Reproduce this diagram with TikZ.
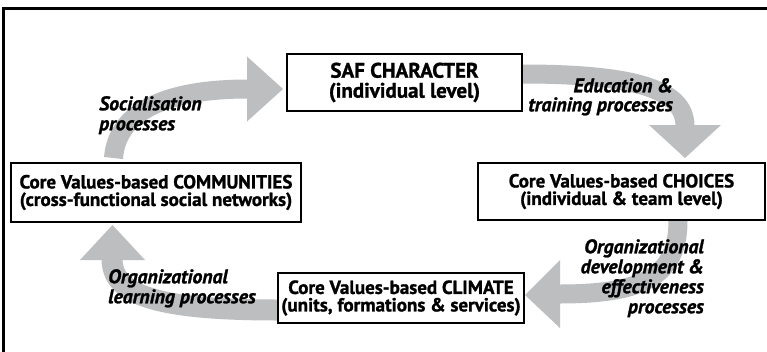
\documentclass[tikz,border=0pt]{standalone}
\usepackage{fontspec}
\setmainfont{PT Sans}[BoldFeatures={FakeBold=1.2},BoldItalicFeatures={FakeBold=1.2}]
\definecolor{arrowgray}{RGB}{188,190,192}
\begin{document}
\begin{tikzpicture}[x=1pt,y=-1pt,
  box/.style={draw=black, line width=2.3pt, fill=white, inner sep=0pt, align=center, font=\bfseries\fontsize{19}{17.5}\selectfont},
  shaft/.style={draw=arrowgray, line width=19pt},
  head/.style={fill=arrowgray},
  lbl/.style={inner sep=0pt, font=\bfseries\itshape\fontsize{19.7}{20}\selectfont}]
\useasboundingbox (0,0) rectangle (767,351);
\fill[white] (0,0) rectangle (767,351);
% frame (cropped)
\draw[line width=3pt] (3.3,352) -- (3.3,8.3) -- (768,8.3);
% arrows
\coordinate (a1s) at (113.5,158);
\coordinate (a1b) at (248,89);
\draw[shaft] (a1s) .. controls (117,112) and (165,89) .. (a1b);
\fill[head] (247,56.5) -- (283,89) -- (247,121.5) -- cycle;
\coordinate (a2s) at (522,74);
\coordinate (a2b) at (685,126);
\draw[shaft] (a2s) .. controls (630,74) and (685,88) .. (a2b);
\fill[head] (649,125) -- (721,125) -- (685,158) -- cycle;
\coordinate (a3s) at (678,221);
\coordinate (a3b) at (559,294);
\draw[shaft] (a3s) .. controls (678,278) and (640,294) .. (a3b);
\fill[head] (560,260) -- (560,328) -- (525,295) -- cycle;
\coordinate (a4s) at (278,310);
\coordinate (a4b) at (112,259);
\draw[shaft, line width=21pt] (a4s) .. controls (160,310) and (112,296) .. (a4b);
\fill[head] (80,260) -- (145,260) -- (112.5,225) -- cycle;
% boxes
\node[box, minimum width=235pt, minimum height=57pt, font=\bfseries\fontsize{21}{20}\selectfont] (saf) at (404.5,82.5) {SAF CHARACTER\\(individual level)};
\node[box, minimum width=290pt, minimum height=59pt] (comm) at (156,192.5) {Core Values-based COMMUNITIES\\(cross-functional social networks)};
\node[box, minimum width=287pt, minimum height=57pt] (choices) at (621.5,191.5) {Core Values-based CHOICES\\(individual \& team level)};
\node[box, minimum width=246pt, minimum height=50pt] (climate) at (401,298) {Core Values-based CLIMATE\\(units, formations \& services)};
% labels
\node[lbl, anchor=north west, align=left] (l1) at (99,96) {Socialisation\\processes};
\node[lbl, anchor=north east, align=right, font=\bfseries\itshape\fontsize{19.7}{19}\selectfont] (l2) at (673,78) {Education \&\\training processes};
\node[lbl, anchor=north east, align=right] (l3) at (704,239) {Organizational\\development \&\\effectiveness\\processes};
\node[lbl, anchor=north west, align=left] (l4) at (108,269) {Organizational\\learning processes};
\end{tikzpicture}
\end{document}
